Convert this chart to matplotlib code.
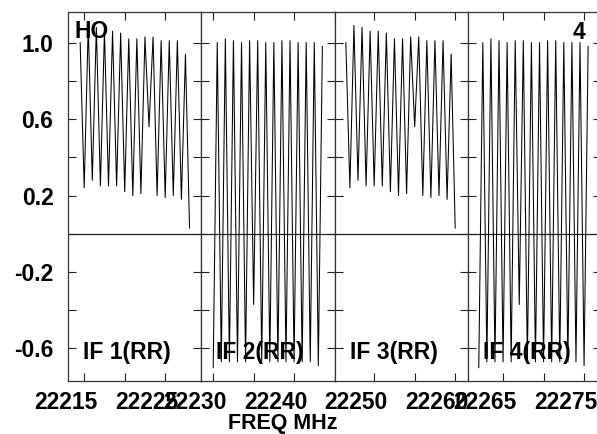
import matplotlib
matplotlib.use("Agg")
import matplotlib.pyplot as plt
import matplotlib.transforms as mtransforms

# channel frequencies (MHz) per IF
freq_if1 = [22214.5, 22215.0, 22215.5, 22216.0, 22216.5, 22217.0, 22217.5,
            22218.0, 22218.5, 22219.0, 22219.5, 22220.0, 22220.5, 22221.0,
            22221.5, 22222.0, 22222.5, 22223.0, 22223.5, 22224.0, 22224.5,
            22225.0, 22225.5, 22226.0, 22226.5, 22227.0, 22227.5, 22228.0]
freq_if2 = [22230.0, 22230.5, 22231.0, 22231.5, 22232.0, 22232.5, 22233.0,
            22233.5, 22234.0, 22234.5, 22235.0, 22235.5, 22236.0, 22236.5,
            22237.0, 22237.5, 22238.0, 22238.5, 22239.0, 22239.5, 22240.0,
            22240.5, 22241.0, 22241.5, 22242.0, 22242.5, 22243.0, 22243.5]
freq_if3 = [22246.5, 22247.0, 22247.5, 22248.0, 22248.5, 22249.0, 22249.5,
            22250.0, 22250.5, 22251.0, 22251.5, 22252.0, 22252.5, 22253.0,
            22253.5, 22254.0, 22254.5, 22255.0, 22255.5, 22256.0, 22256.5,
            22257.0, 22257.5, 22258.0, 22258.5, 22259.0, 22259.5, 22260.0]
freq_if4 = [22262.0, 22262.5, 22263.0, 22263.5, 22264.0, 22264.5, 22265.0,
            22265.5, 22266.0, 22266.5, 22267.0, 22267.5, 22268.0, 22268.5,
            22269.0, 22269.5, 22270.0, 22270.5, 22271.0, 22271.5, 22272.0,
            22272.5, 22273.0, 22273.5, 22274.0, 22274.5, 22275.0, 22275.5]

# amplitudes
amp_if1 = [1.00, 0.24, 1.09, 0.28, 1.08, 0.25, 1.06, 0.25, 1.06, 0.25,
           1.05, 0.22, 1.02, 0.20, 1.02, 0.21, 1.03, 0.56, 1.03, 0.20,
           1.01, 0.19, 1.01, 0.20, 1.01, 0.18, 0.94, 0.03]
amp_if2 = [-0.70, 1.00, -0.67, 1.02, -0.67, 1.01, -0.67, 1.00, -0.67, 1.01,
           -0.37, 1.01, -0.67, 1.00, -0.67, 1.00, -0.67, 1.01, -0.67, 1.01,
           -0.67, 1.00, -0.67, 1.00, -0.67, 1.00, -0.69, 0.98]
amp_if3 = [1.00, 0.24, 1.09, 0.28, 1.08, 0.25, 1.06, 0.25, 1.06, 0.25,
           1.05, 0.22, 1.02, 0.20, 1.02, 0.21, 1.03, 0.56, 1.03, 0.20,
           1.01, 0.19, 1.01, 0.20, 1.01, 0.18, 0.94, 0.03]
amp_if4 = [-0.70, 1.00, -0.67, 1.02, -0.67, 1.01, -0.67, 1.00, -0.67, 1.01,
           -0.37, 1.01, -0.67, 1.00, -0.67, 1.00, -0.67, 1.01, -0.67, 1.01,
           -0.67, 1.00, -0.67, 1.00, -0.67, 1.00, -0.69, 0.98]

freqs = [freq_if1, freq_if2, freq_if3, freq_if4]
amps = [amp_if1, amp_if2, amp_if3, amp_if4]
if_labels = ["IF 1(RR)", "IF 2(RR)", "IF 3(RR)", "IF 4(RR)"]
xlims = [(22213.0, 22229.45), (22228.52, 22244.97),
         (22245.1, 22261.55), (22260.64, 22277.09)]
major_x = [[22215, 22225], [22230, 22240], [22250, 22260], [22265, 22275]]
minor_x = [[22220], [22235, 22245], [22255], [22270]]
y_major = [1.0, 0.6, 0.2, -0.2, -0.6]
y_minor = [0.8, 0.4, 0.0, -0.4]

plt.rcParams["font.family"] = ["Liberation Sans", "DejaVu Sans"]
plt.rcParams["font.weight"] = "bold"
FS = 16.5

W, H = 597, 434
fig = plt.figure(figsize=(W / 100, H / 100), dpi=100)

left_px, panel_w = 68.0, 133.25
top_px, bot_px = 12.0, 381.0
# the x labels sit a bit left of their ticks in the original
offset = mtransforms.ScaledTranslation(-18 / 100, 0, fig.dpi_scale_trans)

for i in range(4):
    x0 = left_px + i * panel_w
    ax = fig.add_axes([x0 / W, 1 - bot_px / H, panel_w / W, (bot_px - top_px) / H])
    ax.axhline(0, color="#222222", lw=0.9, zorder=1)
    ax.plot(freqs[i], amps[i], color="black", lw=0.75, zorder=2)
    ax.set_xlim(*xlims[i])
    ax.set_ylim(-0.77, 1.16)

    ax.set_xticks(major_x[i])
    ax.set_xticks(minor_x[i], minor=True)
    ax.set_xticklabels([str(v) for v in major_x[i]], fontsize=FS, fontweight="bold")
    ax.set_yticks(y_major)
    ax.set_yticks(y_minor, minor=True)
    if i == 0:
        ax.set_yticklabels(["1.0", "0.6", "0.2", "-0.2", "-0.6"], fontsize=FS,
                           fontweight="bold")
    else:
        ax.set_yticklabels([])

    ax.tick_params(which="both", direction="in", length=5.8, width=0.8,
                   top=True, right=True, color="#222222")
    ax.tick_params(axis="x", which="major", pad=7.5)
    ax.tick_params(axis="y", which="major", pad=10.5)
    for sp in ax.spines.values():
        sp.set_linewidth(0.9)
        sp.set_color("#333333")

    for lab in ax.get_xticklabels():
        lab.set_transform(lab.get_transform() + offset)

    fig.text((x0 + 15) / W, 1 - 359.3 / H, if_labels[i], fontsize=FS,
             fontweight="bold", ha="left", va="baseline", zorder=5)

fig.text(74.3 / W, 1 - 38.3 / H, "HO", fontsize=FS, fontweight="bold",
         ha="left", va="baseline")
fig.text(585.7 / W, 1 - 39.3 / H, "4", fontsize=FS, fontweight="bold",
         ha="right", va="baseline")
fig.text(283 / W, 1 - 429.5 / H, "FREQ MHz", fontsize=15.5, fontweight="bold",
         ha="center", va="baseline")

fig.savefig("out.png", dpi=100)
